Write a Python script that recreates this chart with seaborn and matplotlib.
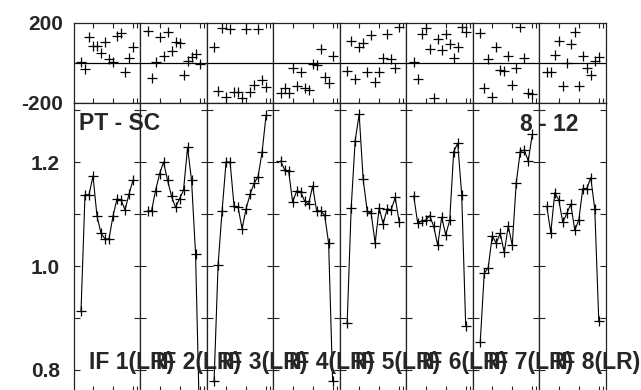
import numpy as np
import matplotlib
matplotlib.use('Agg')
import matplotlib.pyplot as plt
import seaborn as sns

sns.set_style('white')
plt.rcParams['font.family'] = ['Liberation Sans', 'DejaVu Sans']
plt.rcParams['font.weight'] = 'bold'
plt.rcParams['axes.unicode_minus'] = False

# upper strip (-200..200), one list per IF
top_vals = [
    [7, -30, 130, 87, 87, 48, 103, 20, 7, 135, 148, -43, 27, 78],
    [160, -77, 3, 130, 37, 157, 62, 103, 102, -60, 10, 32, 43, -7],
    [78, -138, 173, -168, 168, -143, -143, -177, 168, -143, -110, 168, -85, -118],
    [-152, -127, -148, -23, -113, -47, -123, -135, -7, -10, 68, -72, -98, 35],
    [-38, 112, -82, 82, 98, -47, 140, -93, -43, 27, 143, 18, -27, 178],
    [3, -82, 143, 173, 68, -173, 120, 65, 143, 93, 27, 82, 178, 153],
    [148, -127, 18, -168, 78, -35, -40, 37, -110, -27, 178, 27, -152, -155],
    [-47, -47, 40, 112, -115, 2, 93, 157, -115, 35, -27, -60, 10, 28],
]

# lower strip (ratio)
bot_vals = [
    [0.913, 1.137, 1.137, 1.173, 1.096, 1.063, 1.052, 1.052, 1.096, 1.129, 1.127, 1.108, 1.138, 1.165],
    [1.106, 1.106, 1.145, 1.177, 1.200, 1.165, 1.134, 1.113, 1.129, 1.146, 1.228, 1.165, 1.024, 0.700],
    [0.779, 1.002, 1.106, 1.200, 1.200, 1.115, 1.113, 1.072, 1.110, 1.138, 1.159, 1.172, 1.219, 1.290],
    [1.202, 1.185, 1.183, 1.123, 1.144, 1.143, 1.125, 1.119, 1.154, 1.106, 1.106, 1.098, 1.044, 0.779],
    [0.890, 1.111, 1.241, 1.292, 1.167, 1.106, 1.101, 1.044, 1.112, 1.081, 1.110, 1.108, 1.132, 1.085],
    [1.135, 1.082, 1.087, 1.088, 1.097, 1.076, 1.040, 1.094, 1.060, 1.088, 1.220, 1.236, 1.137, 0.885],
    [0.853, 0.986, 0.997, 1.058, 1.044, 1.063, 1.026, 1.077, 1.040, 1.160, 1.220, 1.223, 1.202, 1.253],
    [1.115, 1.064, 1.141, 1.127, 1.084, 1.101, 1.119, 1.069, 1.088, 1.149, 1.149, 1.170, 1.109, 0.894],
]

if_labels = ['IF %d(LR)' % (i + 1) for i in range(8)]
chan = np.arange(1, 15)

W, H = 641, 390
fig = plt.figure(figsize=(W / 100, H / 100), dpi=100)

left0, pw = 73.7, 66.54
spine_c = '#222222'
lab_fs = 16.5

for i in range(8):
    x0 = (left0 + pw * i) / W
    ax_t = fig.add_axes([x0, 1 - 103 / H, pw / W, 80 / H])
    ax_b = fig.add_axes([x0, 1 - 391 / H, pw / W, 288 / H])

    sns.scatterplot(x=chan, y=top_vals[i], marker='+', color='k', s=45,
                    linewidth=0.9, ax=ax_t)
    ax_t.axhline(0, color='k', lw=0.9)
    ax_t.set_ylim(-200, 200)

    sns.lineplot(x=chan, y=bot_vals[i], color='k', lw=0.8, marker='+',
                 markersize=7, markeredgewidth=0.9, markeredgecolor='k', ax=ax_b)
    ax_b.set_ylim(0.7596, 1.3135)

    for ax in (ax_t, ax_b):
        ax.set_xlim(-0.825, 15.81)
        ax.set_xticks([4, 9, 14, 15])
        ax.set_xticklabels([])
        ax.set_xlabel('')
        ax.set_ylabel('')
        for s in ax.spines.values():
            s.set_color(spine_c)
            s.set_linewidth(0.9)

    ax_t.tick_params(axis='x', which='both', direction='in', length=3.5,
                     width=0.8, top=True, bottom=True, color=spine_c)
    ax_b.tick_params(axis='x', which='both', direction='in', length=3.5,
                     width=0.8, top=False, bottom=True, color=spine_c)

    ax_t.set_yticks([-200, 200])
    ax_t.tick_params(axis='y', length=0, pad=7.7, labelsize=15)

    ax_b.set_yticks([0.8, 1.0, 1.2])
    ax_b.set_yticks([0.9, 1.1, 1.3], minor=True)
    ax_b.tick_params(axis='y', which='both', direction='in', length=4,
                     width=0.8, left=True, right=True, pad=9.9, labelsize=15,
                     color=spine_c)

    if i == 0:
        ax_t.set_yticklabels(['-200', '200'], fontweight='bold')
        ax_b.set_yticklabels(['0.8', '1.0', '1.2'], fontweight='bold')
    else:
        ax_t.set_yticklabels([])
        ax_b.set_yticklabels([])

    fig.text((left0 + pw * i + 15.5) / W, 1 - 369.5 / H, if_labels[i],
             fontsize=lab_fs, fontweight='bold', va='baseline', ha='left')

fig.text(79 / W, 1 - 130.5 / H, 'PT - SC', fontsize=lab_fs, fontweight='bold',
         va='baseline', ha='left')
fig.text(519.8 / W, 1 - 131 / H, '8 - 12', fontsize=lab_fs, fontweight='bold',
         va='baseline', ha='left')

fig.savefig('out.png', dpi=100)
